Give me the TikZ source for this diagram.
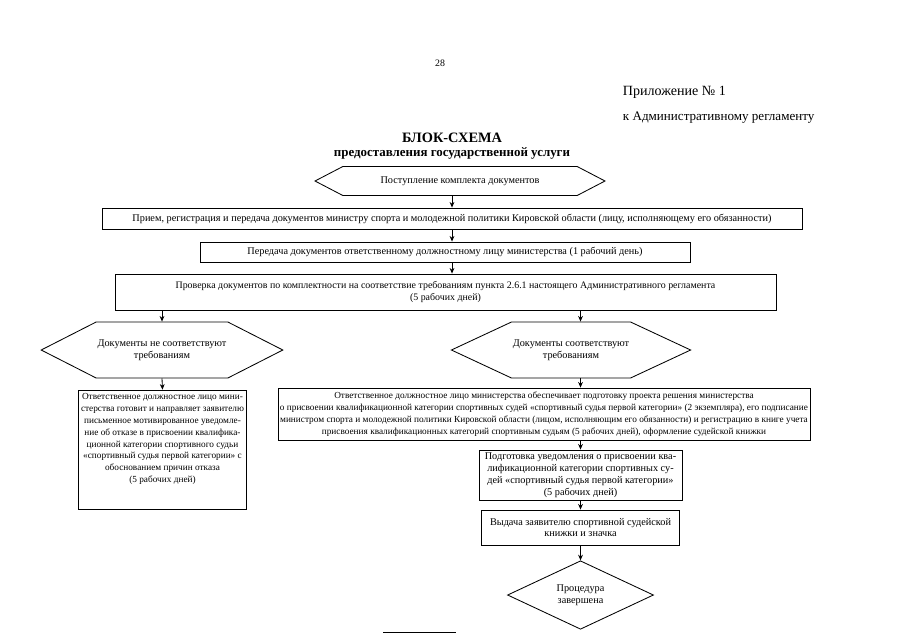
\documentclass[tikz,border=0pt]{standalone}
\usepackage{fontspec}
\setmainfont{Liberation Serif}
\usetikzlibrary{shapes,shapes.symbols,shapes.geometric,arrows.meta,positioning,calc}

\newcommand{\pxl}{0.025cm}
\newcommand{\boxfont}{\fontsize{7.3}{8.5}\selectfont}
\newcommand{\smallboxfont}{\fontsize{6.6}{8.4}\selectfont}

\begin{document}
\begin{tikzpicture}[x=0.025cm, y=-0.025cm,
    box/.style={draw, line width=0.6pt, inner sep=1pt, align=center, font=\boxfont},
    hexa/.style={draw, line width=0.6pt, shape=signal, signal to=west and east, inner sep=1pt, align=center, font=\boxfont},
    arr/.style={-{Stealth[length=4pt,width=3.4pt]}, line width=0.6pt}]
        \useasboundingbox (0,0) rectangle (905,640);

        % Шапка
        \node[font=\fontsize{7}{8}\selectfont] (pagenum) at (440,63) {28};
        \node[anchor=west, font=\fontsize{10}{12}\selectfont] (appx) at (618,92) {Приложение № 1};
        \node[anchor=west, font=\fontsize{9.3}{12}\selectfont] (appreg) at (618,118) {к Административному регламенту};
        \node[font=\bfseries\fontsize{10.2}{12}\selectfont] (title) at (452,138) {БЛОК-СХЕМА};
        \node[font=\bfseries\fontsize{9.2}{11}\selectfont] (subtitle) at (452,153) {предоставления государственной услуги};

        % Общая часть
        \node[hexa, minimum width=290*\pxl, minimum height=29*\pxl, signal pointer angle=55] (start) at (460,181) {Поступление комплекта документов};
        \node[box, minimum width=700*\pxl, minimum height=21*\pxl] (reg) at (452,218.5) {Прием, регистрация и передача документов министру спорта и молодежной политики Кировской области (лицу, исполняющему его обязанности)};
        \node[box, minimum width=490*\pxl, minimum height=20*\pxl] (transfer) at (445,252) {Передача документов ответственному должностному лицу министерства (1 рабочий день)};
        \node[box, font=\fontsize{7.05}{8.5}\selectfont, minimum width=661*\pxl, minimum height=36*\pxl] (check) at (445.5,292) {Проверка документов по комплектности на соответствие требованиям пункта 2.6.1 настоящего Административного регламента\\(5 рабочих дней)};

        % Отказ
        \node[hexa, minimum width=235*\pxl, minimum height=56*\pxl, signal pointer angle=54] (notok) at (162,350) {Документы не соответствуют\\требованиям};
        \node[draw, line width=0.6pt, inner xsep=1pt, inner ysep=2.6pt] (refuse) at (162.5,450) {\parbox[c][80pt][t]{117pt}{\centering\smallboxfont
            Ответственное должностное лицо мини-\\стерства готовит и направляет заявителю\\письменное мотивированное уведомле-\\ние об отказе в присвоении квалифика-\\ционной категории спортивного судьи\\«спортивный судья первой категории» с\\обоснованием причин отказа\\(5 рабочих дней)}};

        % Присвоение
        \node[hexa, minimum width=233*\pxl, minimum height=56*\pxl, signal pointer angle=50] (ok) at (571,350) {Документы соответствуют\\требованиям};
        \node[box, font=\smallboxfont, minimum width=532*\pxl, minimum height=52*\pxl] (prepare) at (544,414) {Ответственное должностное лицо министерства обеспечивает подготовку проекта решения министерства\\о присвоении квалификационной категории спортивных судей «спортивный судья первой категории» (2 экземпляра), его подписание\\министром спорта и молодежной политики Кировской области (лицом, исполняющим его обязанности) и регистрацию в книге учета\\присвоения квалификационных категорий спортивным судьям (5 рабочих дней), оформление судейской книжки};
        \node[box, minimum width=203*\pxl, minimum height=50*\pxl] (notify) at (580.5,475) {Подготовка уведомления о присвоении ква-\\лификационной категории спортивных су-\\дей «спортивный судья первой категории»\\(5 рабочих дней)};
        \node[box, minimum width=198*\pxl, minimum height=35*\pxl] (issue) at (580.5,527.5) {Выдача заявителю спортивной судейской\\книжки и значка};
        \node[draw, line width=0.6pt, shape=diamond, minimum width=146*\pxl, minimum height=66*\pxl, inner sep=0pt, align=center, font=\boxfont] (done) at (580.5,595) {Процедура\\завершена};

        % Стрелки
        \draw[arr] (start.south -| reg.north) -- (reg.north);
        \draw[arr] (reg.south) -- (transfer.north -| reg.south);
        \draw[arr] (transfer.south -| reg.south) -- (check.north -| reg.south);
        \draw[arr] (check.south -| notok.north) -- (notok.north);
        \draw[arr] (notok.south) -- (refuse.north);
        \draw[arr] (check.south -| notify.north) -- (ok.north -| notify.north);
        \draw[arr] (ok.south -| notify.north) -- (prepare.north -| notify.north);
        \draw[arr] (prepare.south -| notify.north) -- (notify.north);
        \draw[arr] (notify.south) -- (issue.north);
        \draw[arr] (issue.south) -- (done.north);

        % Черта внизу
        \draw[line width=0.5pt] (383,632) -- (456,632);
    \end{tikzpicture}
\end{document}
